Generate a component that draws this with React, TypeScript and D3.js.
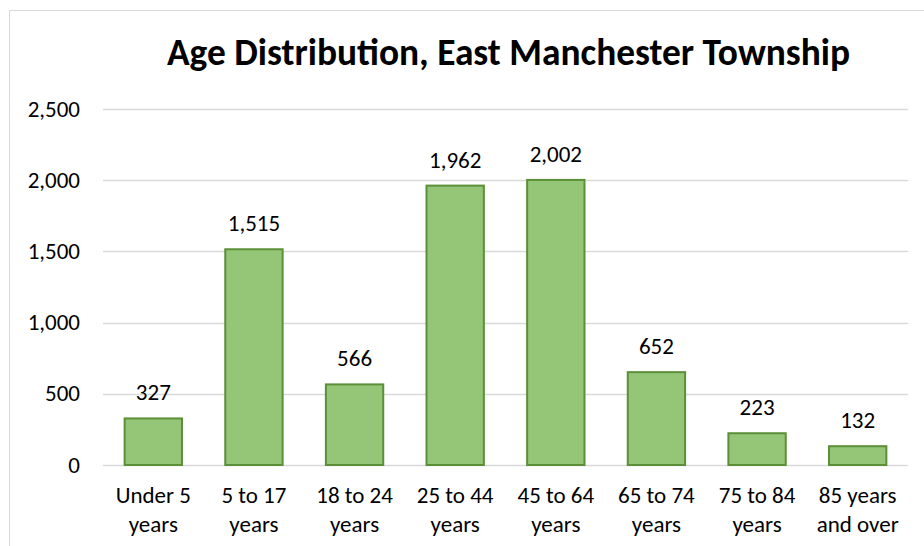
import { useEffect, useRef } from "react";
import * as d3 from "d3";

const categories = [
  ["Under 5", "years"],
  ["5 to 17", "years"],
  ["18 to 24", "years"],
  ["25 to 44", "years"],
  ["45 to 64", "years"],
  ["65 to 74", "years"],
  ["75 to 84", "years"],
  ["85 years", "and over"],
];
const population = [327, 1515, 566, 1962, 2002, 652, 223, 132];
const yTicks = [0, 500, 1000, 1500, 2000, 2500];
const title = "Age Distribution, East Manchester Township";

const W = 924;
const H = 546;
const FONT = "Carlito, Lato, 'Open Sans', sans-serif";

export default function App() {
  const ref = useRef<SVGSVGElement>(null);

  useEffect(() => {
    const svg = d3.select(ref.current);
    svg.selectAll("*").remove();

    const plot = { left: 103, right: 908, top: 109, bottom: 465 };

    // chart frame
    svg
      .append("rect")
      .attr("x", 9.5)
      .attr("y", 10.5)
      .attr("width", W)
      .attr("height", H)
      .attr("fill", "#fff")
      .attr("stroke", "#d9d9d9");

    svg
      .append("text")
      .attr("x", 508.5)
      .attr("y", 65)
      .attr("text-anchor", "middle")
      .style("font-family", FONT)
      .style("font-size", "37.4px")
      .style("font-weight", "bold")
      .attr("fill", "#000")
      .text(title);

    const keys = categories.map((c) => c.join(" "));
    const x = d3
      .scaleBand()
      .domain(keys)
      .range([plot.left, plot.right])
      .paddingInner(0.43)
      .paddingOuter(0.215);

    const y = d3.scaleLinear().domain([0, 2500]).range([plot.bottom, plot.top]);

    // gridlines
    svg
      .append("g")
      .selectAll("line")
      .data(yTicks)
      .join("line")
      .attr("x1", plot.left)
      .attr("x2", plot.right)
      .attr("y1", (d) => Math.round(y(d)) + 0.5)
      .attr("y2", (d) => Math.round(y(d)) + 0.5)
      .attr("stroke", "#d9d9d9")
      .attr("stroke-width", 1.5);

    // y tick labels
    svg
      .append("g")
      .selectAll("text")
      .data(yTicks)
      .join("text")
      .attr("x", 80)
      .attr("y", (d) => y(d) + 7.5)
      .attr("text-anchor", "end")
      .style("font-family", FONT)
      .style("font-size", "23px")
      .attr("fill", "#000")
      .text((d) => d3.format(",")(d));

    // bars
    svg
      .append("g")
      .selectAll("rect")
      .data(population)
      .join("rect")
      .attr("x", (d, i) => x(keys[i])!)
      .attr("y", (d) => y(d))
      .attr("width", x.bandwidth())
      .attr("height", (d) => y(0) - y(d))
      .attr("fill", "#95c677")
      .attr("stroke", "#5b8f38")
      .attr("stroke-width", 2);

    // data labels
    svg
      .append("g")
      .selectAll("text")
      .data(population)
      .join("text")
      .attr("x", (d, i) => x(keys[i])! + x.bandwidth() / 2)
      .attr("y", (d) => y(d) - 18)
      .attr("text-anchor", "middle")
      .style("font-family", FONT)
      .style("font-size", "23px")
      .attr("fill", "#000")
      .text((d) => d3.format(",")(d));

    // category labels
    const cat = svg
      .append("g")
      .selectAll("text")
      .data(categories)
      .join("text")
      .attr("x", (d, i) => x(keys[i])! + x.bandwidth() / 2)
      .attr("y", 503)
      .attr("text-anchor", "middle")
      .style("font-family", FONT)
      .style("font-size", "23px")
      .attr("fill", "#000");
    cat
      .selectAll("tspan")
      .data((d) => d)
      .join("tspan")
      .attr("x", function () {
        return (this.parentNode as SVGTextElement).getAttribute("x");
      })
      .attr("dy", (d, i) => (i === 0 ? 0 : 29))
      .text((d) => d);
  }, []);

  return (
    <svg
      ref={ref}
      width={W}
      height={H}
      style={{ position: "absolute", left: 0, top: 0, background: "#fff" }}
    />
  );
}
